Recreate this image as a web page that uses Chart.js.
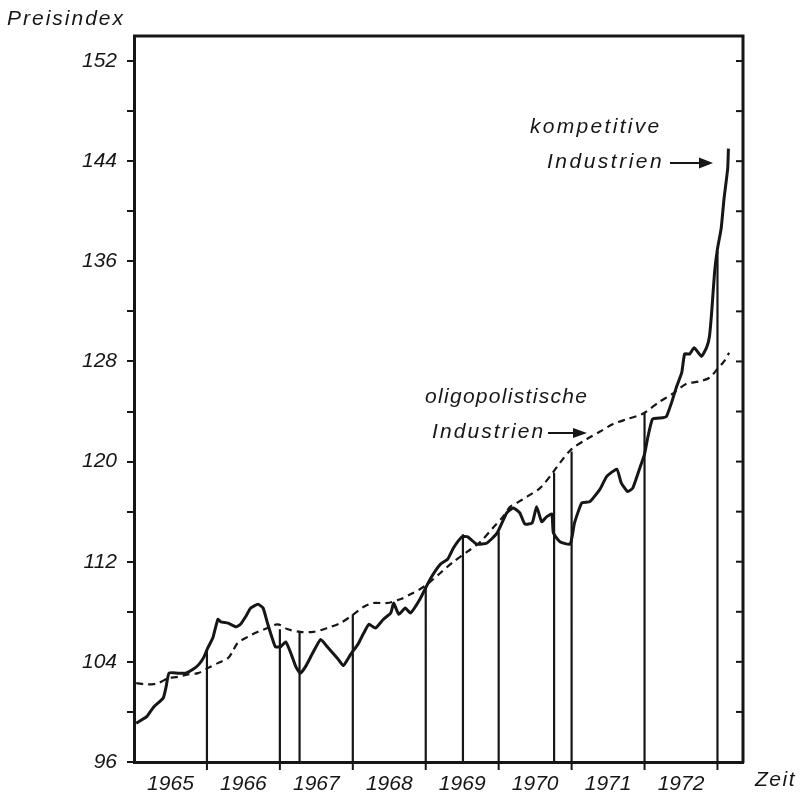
<!DOCTYPE html>
<html>
<head>
<meta charset="utf-8">
<script src="https://cdn.jsdelivr.net/npm/chart.js@4/dist/chart.umd.min.js"></script>
<style>
html,body{margin:0;padding:0;background:#fff;}
#wrap{width:803px;height:797px;position:relative;}
</style>
</head>
<body>
<div id="wrap"><canvas id="c" width="803" height="797"></canvas></div>
<script>
// ---- data ----
const compYears = [1965.03,1965.17,1965.27,1965.40,1965.44,1965.48,1965.60,1965.71,1965.81,1965.89,1965.96,1966.01,1966.08,1966.15,1966.19,1966.29,1966.40,1966.46,1966.53,1966.60,1966.70,1966.77,1966.83,1966.90,1966.94,1967.01,1967.08,1967.15,1967.22,1967.28,1967.35,1967.45,1967.56,1967.65,1967.74,1967.80,1967.87,1967.97,1968.07,1968.15,1968.22,1968.31,1968.42,1968.52,1968.56,1968.63,1968.72,1968.79,1968.92,1969.06,1969.20,1969.30,1969.38,1969.50,1969.57,1969.70,1969.84,1969.98,1970.11,1970.20,1970.29,1970.36,1970.46,1970.52,1970.59,1970.66,1970.73,1970.75,1970.84,1970.98,1971.04,1971.14,1971.25,1971.39,1971.48,1971.62,1971.68,1971.77,1971.84,1971.93,1972.00,1972.04,1972.11,1972.25,1972.30,1972.37,1972.44,1972.51,1972.55,1972.62,1972.68,1972.78,1972.85,1972.89,1972.92,1972.96,1973.00,1973.05,1973.09,1973.14,1973.15];
const compValues = [99.1,99.6,100.4,101.1,102.0,103.1,103.1,103.1,103.4,103.8,104.4,105.1,105.9,107.4,107.2,107.1,106.8,107.0,107.6,108.3,108.6,108.3,107.1,105.8,105.2,105.2,105.6,104.7,103.6,103.1,103.6,104.7,105.8,105.2,104.6,104.2,103.7,104.6,105.4,106.3,107.0,106.7,107.4,107.9,108.7,107.8,108.3,107.9,109.0,110.6,111.8,112.2,113.1,114.0,114.0,113.4,113.5,114.3,115.9,116.3,115.9,115.0,115.1,116.4,115.2,115.6,115.8,114.3,113.6,113.4,115.1,116.7,116.8,117.8,118.8,119.4,118.3,117.6,117.9,119.4,120.6,121.8,123.4,123.5,123.6,124.7,126.0,127.1,128.6,128.6,129.1,128.4,129.1,130.0,131.9,135.1,137.0,138.6,141.0,143.4,145.0];
const oligoYears = [1965.03,1965.19,1965.33,1965.47,1965.60,1965.74,1965.88,1966.01,1966.15,1966.29,1966.35,1966.42,1966.56,1966.70,1966.83,1966.97,1967.11,1967.28,1967.46,1967.65,1967.83,1968.01,1968.15,1968.28,1968.47,1968.65,1968.79,1968.92,1969.02,1969.20,1969.38,1969.57,1969.75,1969.92,1970.06,1970.16,1970.25,1970.39,1970.57,1970.74,1970.84,1971.00,1971.21,1971.39,1971.57,1971.76,1971.97,1972.21,1972.38,1972.57,1972.75,1972.89,1973.00,1973.09,1973.16];
const oligoValues = [102.3,102.2,102.3,102.7,102.8,103.0,103.1,103.5,103.9,104.3,104.8,105.5,106.0,106.4,106.7,107.0,106.6,106.4,106.4,106.7,107.1,107.8,108.4,108.7,108.7,109.0,109.4,109.8,110.2,111.1,112.0,112.8,113.6,114.7,115.6,116.4,116.7,117.2,117.9,119.1,119.9,121.0,121.8,122.4,123.0,123.4,123.8,124.8,125.4,126.2,126.4,126.7,127.4,128.0,128.7];
const markerYears = [1966.0,1967.0,1967.27,1968.0,1969.0,1969.51,1970.0,1970.76,1971.0,1972.0,1973.0];
const markerTops  = [105.0,106.6,106.4,107.8,110.0,114.2,114.4,119.1,120.8,123.9,136.8];
const yearLabels = [1965,1966,1967,1968,1969,1970,1971,1972];
const yearBounds = [1966,1967,1968,1969,1970,1971,1972,1973];
const yMin = 96, yMax = 154, yTickStep = 4, yLabelStep = 8;
const xMin = 1965, xMax = 1973.35;

const INK = '#161616';
const FAMILY = '"Liberation Sans", Arial, sans-serif';
const FONT = 'italic 21px ' + FAMILY;

const compData = compYears.map((x,i)=>({x, y: compValues[i]}));
const oligoData = oligoYears.map((x,i)=>({x, y: oligoValues[i]}));
const markerData = [];
markerYears.forEach((x,i)=>{ markerData.push({x, y: yMin}); markerData.push({x, y: markerTops[i]}); markerData.push({x, y: null}); });

function arrow(ctx, x1, y, x2, headLen, headW){
  ctx.beginPath(); ctx.moveTo(x1,y); ctx.lineTo(x2-headLen+2,y); ctx.lineWidth=2; ctx.stroke();
  ctx.beginPath(); ctx.moveTo(x2,y); ctx.lineTo(x2-headLen,y-headW); ctx.lineTo(x2-headLen,y+headW); ctx.closePath(); ctx.fill();
}
function spacedText(ctx, txt, x, y, sp){
  ctx.save(); try{ ctx.letterSpacing = sp+'px'; }catch(e){} ctx.fillText(txt, x, y); ctx.restore();
}

const deco = {
  id:'deco',
  afterDraw(chart){
    const ctx = chart.ctx, a = chart.chartArea, xs = chart.scales.x, ys = chart.scales.y;
    ctx.save();
    ctx.strokeStyle = INK; ctx.fillStyle = INK; ctx.lineCap='butt';
    ctx.lineWidth = 3;
    ctx.beginPath(); ctx.moveTo(a.left-1, a.top); ctx.lineTo(a.right, a.top); ctx.lineTo(a.right, a.bottom+1); ctx.stroke();
    ctx.lineWidth = 2;
    for(let v = yMin + yTickStep; v < yMax; v += yTickStep){
      const p = ys.getPixelForValue(v);
      ctx.beginPath(); ctx.moveTo(a.right-7, p); ctx.lineTo(a.right, p); ctx.stroke();
    }
    yearBounds.forEach(yv=>{
      const p = xs.getPixelForValue(yv);
      ctx.beginPath(); ctx.moveTo(p, a.bottom); ctx.lineTo(p, a.bottom+8); ctx.stroke();
    });
    ctx.font = FONT; ctx.textBaseline='alphabetic'; ctx.textAlign='left';
    spacedText(ctx, 'Preisindex', 7, 25, 2);
    spacedText(ctx, 'Zeit', 755, 786, 1.5);
    spacedText(ctx, 'kompetitive', 530, 133, 2.3);
    spacedText(ctx, 'Industrien', 547, 168, 2.5);
    arrow(ctx, 670, 163, 713, 14, 5.5);
    spacedText(ctx, 'oligopolistische', 425, 403, 1.3);
    spacedText(ctx, 'Industrien', 432, 438, 2.1);
    arrow(ctx, 548, 433, 587, 14, 5);
    ctx.restore();
  }
};

new Chart(document.getElementById('c'), {
  type: 'line',
  data: {
    datasets: [
      { label:'kompetitive Industrien', data: compData, borderColor: INK, borderWidth: 3, pointRadius: 0, tension: 0.15, fill:false, order: 1 },
      { label:'oligopolistische Industrien', data: oligoData, borderColor: INK, borderWidth: 2.2, borderDash:[7,5], pointRadius: 0, tension: 0.3, fill:false, order: 2 },
      { label:'Markierungen', data: markerData, borderColor: INK, borderWidth: 2.2, pointRadius: 0, tension: 0, spanGaps:false, fill:false, order: 3 }
    ]
  },
  options: {
    responsive: false,
    animation: false,
    events: [],
    layout: { padding: { top: 36, right: 60, left: 0, bottom: 0 } },
    plugins: { legend: { display:false }, tooltip: { enabled:false } },
    scales: {
      x: {
        type:'linear', min: xMin, max: xMax,
        afterBuildTicks(s){ s.ticks = yearLabels.map(v=>({value: v+0.5})); },
        afterFit(s){ s.height = 35; },
        grid: { display:false, drawTicks:false },
        border: { display:true, color: INK, width: 3 },
        ticks: { autoSkip:false, maxRotation:0, includeBounds:false, padding: 10, color: INK, font: { family: FAMILY, size: 21, style:'italic' },
          callback: v => String(Math.floor(v)) }
      },
      y: {
        type:'linear', min: yMin, max: yMax,
        afterFit(s){ s.width = 134; },
        grid: { drawOnChartArea:false, drawTicks:true, tickLength: 7, color: INK, lineWidth: 2 },
        border: { display:true, color: INK, width: 3 },
        ticks: { stepSize: yTickStep, autoSkip:false, includeBounds:false, padding: 10, color: INK,
          font: { family: FAMILY, size: 21, style:'italic' },
          callback: v => ((v - yMin) % yLabelStep === 0 ? String(v) : '') }
      }
    }
  },
  plugins: [deco]
});
</script>
</body>
</html>
